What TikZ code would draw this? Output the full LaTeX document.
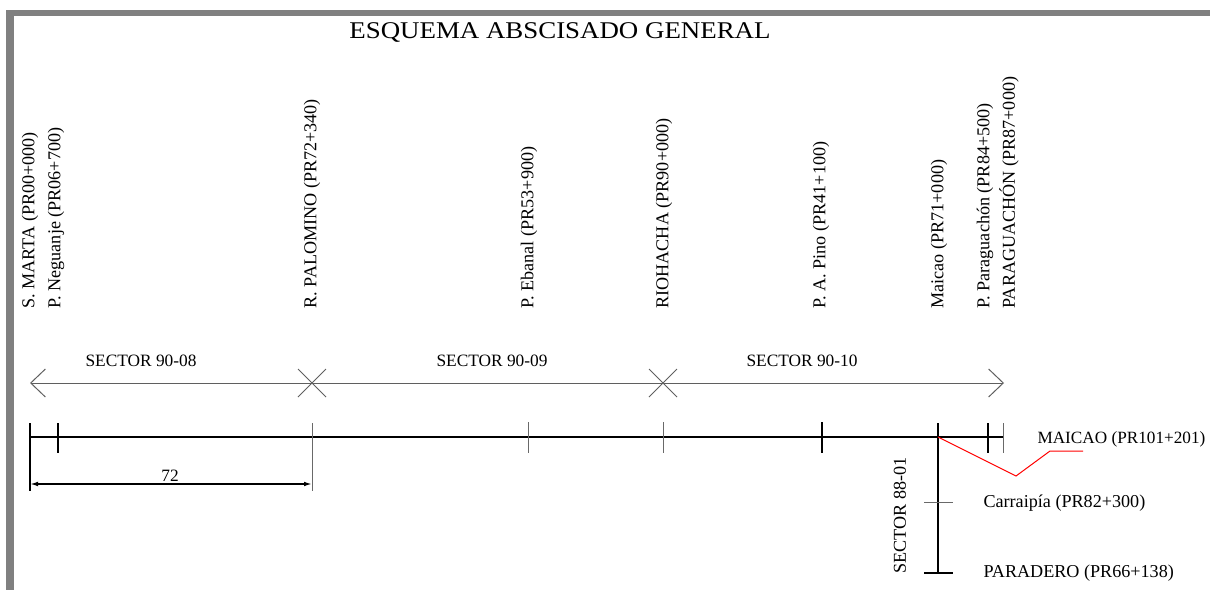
\documentclass[tikz,border=0pt]{standalone}
\usepackage{fontspec}
\setmainfont{Liberation Serif}
\usetikzlibrary{arrows.meta}

\tikzset{every picture/.style={line width=0.75pt}}
\tikzset{
  stationlbl/.style={anchor=west, rotate=90, inner sep=0.75pt, font=\fontsize{13.6}{15}\selectfont},
  plainlbl/.style={inner sep=0.75pt, font=\fontsize{13}{15}\selectfont},
  sidelbl/.style={anchor=west, inner sep=0.75pt, font=\fontsize{13.6}{15}\selectfont},
  darktick/.style={line width=0.95pt, color=black},
  greytick/.style={line width=0.75pt, color={rgb, 255:red, 105; green, 105; blue, 105}},
  sectorline/.style={line width=0.75pt, color={rgb, 255:red, 95; green, 95; blue, 95}},
}

\begin{document}
\begin{tikzpicture}[x=0.75pt,y=0.75pt,yscale=-1,xscale=1]
		\useasboundingbox (0,0) rectangle (1210,590);
		
		%Frame
		\fill [color={rgb, 255:red, 128; green, 128; blue, 128 }] (6,10) rectangle (1210,16) ;
		\fill [color={rgb, 255:red, 128; green, 128; blue, 128 }] (6,10) rectangle (14,590) ;
		
		\node (title) at (560,32) [inner sep=0.75pt, font=\fontsize{18}{20}\selectfont] {\scalebox{1.12}[1]{ESQUEMA ABSCISADO GENERAL}};
		
		%Stations on the main line
		\coordinate (smarta-t) at (30,437);
		\coordinate (neguanje-t) at (58,437);
		\coordinate (palomino-t) at (312,437);
		\coordinate (ebanal-t) at (528,437);
		\coordinate (riohacha-t) at (663,437);
		\coordinate (pino-t) at (822,437);
		\coordinate (maicao-t) at (938,437);
		\coordinate (pparag-t) at (988,437);
		\coordinate (parag-t) at (1003,437);
		
		\draw [darktick] (smarta-t) -- (parag-t) ;
		\draw [darktick] (smarta-t) ++(0,-14) -- ++(0,68) ;
		\draw [darktick] (neguanje-t) ++(0,-14) -- ++(0,30) ;
		\draw [greytick] (palomino-t) ++(0,-14) -- ++(0,68) ;
		\draw [greytick] (ebanal-t) ++(0,-15) -- ++(0,31) ;
		\draw [greytick] (riohacha-t) ++(0,-15) -- ++(0,31) ;
		\draw [darktick] (pino-t) ++(0,-15) -- ++(0,31) ;
		\draw [darktick] (pparag-t) ++(0,-14) -- ++(0,30) ;
		\draw [greytick] (parag-t) ++(0,-14) -- ++(0,30) ;
		
		\node (smarta) [stationlbl] at (30,310) {S. MARTA (PR00+000)};
		\node (neguanje) [stationlbl] at (56,310) {P. Neguanje (PR06+700)};
		\node (palomino) [stationlbl] at (312,310) {R. PALOMINO (PR72+340)};
		\node (ebanal) [stationlbl] at (529,310) {P. Ebanal (PR53+900)};
		\node (riohacha) [stationlbl] at (664,310) {RIOHACHA (PR90+000)};
		\node (pino) [stationlbl] at (821,310) {P. A. Pino (PR41+100)};
		\node (maicao) [stationlbl] at (939,310) {Maicao (PR71+000)};
		\node (pparag) [stationlbl] at (985,310) {P. Paraguachón (PR84+500)};
		\node (parag) [stationlbl] at (1009,310) {PARAGUACHÓN (PR87+000)};
		
		%Sectors
		\coordinate (sec-l) at (30,383);
		\coordinate (sec-r) at (1004,383);
		\coordinate (cross-a) at (312,383);
		\coordinate (cross-b) at (663,383);
		\draw [sectorline, {Straight Barb[length=11pt,width=21pt]}-{Straight Barb[length=11pt,width=21pt]}] (sec-l) -- (sec-r) ;
		\draw [sectorline] (cross-a) ++(-14,-14) -- ++(28,28) (cross-a) ++(-14,14) -- ++(28,-28) ;
		\draw [sectorline] (cross-b) ++(-14,-14) -- ++(28,28) (cross-b) ++(-14,14) -- ++(28,-28) ;
		
		\node (sec08) [plainlbl] at (141,361) {SECTOR 90-08};
		\node (sec09) [plainlbl] at (492,361) {SECTOR 90-09};
		\node (sec10) [plainlbl] at (802,361) {SECTOR 90-10};
		
		%Dimension
		\coordinate (dim-l) at (30,484);
		\coordinate (dim-r) at (312,484);
		\draw [line width=1.1pt, {Latex[length=6pt,width=3.5pt]}-{Latex[length=6pt,width=3.5pt]}] (dim-l) -- (dim-r) ;
		\node (dist) [plainlbl] at (170,476) {72};
		
		%Branch sector 88-01
		\coordinate (carraipia-t) at (938,502);
		\coordinate (paradero-t) at (938,573);
		\draw [darktick] (maicao-t) ++(0,-14) -- (paradero-t) ;
		\draw [darktick] (paradero-t) ++(-14,0) -- ++(29,0) ;
		\draw [greytick] (carraipia-t) ++(-14,0) -- ++(29,0) ;
		
		\node (sec8801) [stationlbl] at (900,575) {SECTOR 88-01};
		\node (maicaoB) [sidelbl, font=\fontsize{12.9}{15}\selectfont] at (1036,439) {MAICAO (PR101+201)};
		\node (carraipia) [sidelbl] at (982,503) {Carraipía (PR82+300)};
		\node (paradero) [sidelbl] at (982,573) {PARADERO (PR66+138)};
		
		%Leader
		\coordinate (bend) at (1016,476);
		\coordinate (lead) at (1050,451);
		\coordinate (lead-end) at (1083,451);
		\draw [color={rgb, 255:red, 255; green, 0; blue, 0 }] (maicao-t) -- (bend) -- (lead) -- (lead-end) ;
		
	\end{tikzpicture}
\end{document}
